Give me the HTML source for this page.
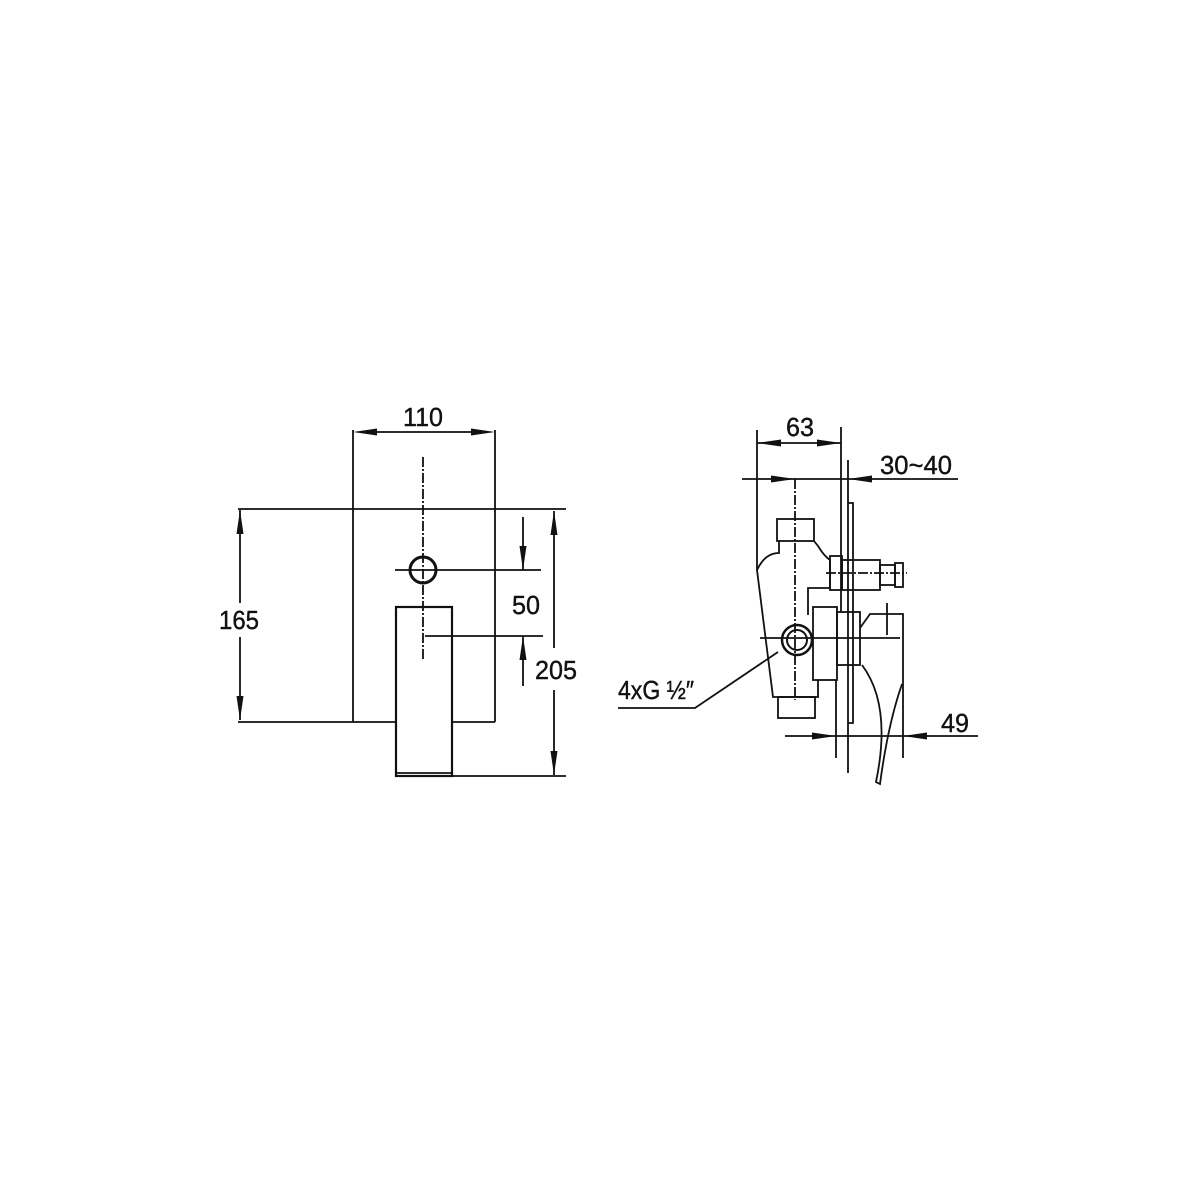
<!DOCTYPE html>
<html><head><style>body{margin:0;background:#fff}svg{display:block}</style></head><body>
<svg width="1200" height="1200" viewBox="0 0 1200 1200" xmlns="http://www.w3.org/2000/svg">
<g stroke="#111" stroke-width="1.8" fill="none">
<!-- left view -->
<line x1="353" y1="430" x2="353" y2="722"/><line x1="495" y1="430" x2="495" y2="722"/>
<line x1="376" y1="432" x2="472" y2="432"/>
<path d="M353,432 l24,-3.5 v7z M495,432 l-24,-3.5 v7z" fill="#111" stroke="none"/>
<line x1="238" y1="509" x2="566" y2="509"/>
<line x1="238" y1="722" x2="396" y2="722"/><line x1="452" y1="722" x2="495" y2="722"/>
<line x1="240" y1="510" x2="240" y2="603"/><line x1="240" y1="637" x2="240" y2="720"/>
<path d="M240,510 l-3.5,24 h7z M240,720 l-3.5,-24 h7z" fill="#111" stroke="none"/>
<rect x="396" y="607" width="56" height="169" stroke-width="2.2"/>
<line x1="396" y1="773" x2="452" y2="773"/>
<circle cx="423" cy="570" r="13" stroke-width="3"/>
<line x1="423" y1="457" x2="423" y2="660" stroke-dasharray="10,2,2,2"/>
<line x1="395" y1="570" x2="541" y2="570"/>
<line x1="425" y1="636" x2="543" y2="636"/>
<line x1="523" y1="517" x2="523" y2="570"/><line x1="523" y1="636" x2="523" y2="686"/>
<path d="M523,570 l-3.5,-24 h7z M523,636 l-3.5,24 h7z" fill="#111" stroke="none"/>
<line x1="554" y1="511" x2="554" y2="648"/><line x1="554" y1="690" x2="554" y2="775"/>
<path d="M554,511 l-3.5,24 h7z M554,775 l-3.5,-24 h7z" fill="#111" stroke="none"/>
<line x1="452" y1="776" x2="566" y2="776"/>
<!-- right view -->
<line x1="757" y1="430" x2="757" y2="570"/><line x1="841" y1="427" x2="841" y2="612"/>
<line x1="757" y1="443" x2="841" y2="443"/>
<path d="M757,443 l24,-3.5 v7z M841,443 l-24,-3.5 v7z" fill="#111" stroke="none"/>
<line x1="742" y1="479" x2="958" y2="479"/>
<path d="M795,479 l-24,-3.5 v7z M848,479 l24,-3.5 v7z" fill="#111" stroke="none"/>
<line x1="795" y1="479" x2="795" y2="700" stroke-dasharray="10,2,2,2"/>
<line x1="848" y1="460" x2="848" y2="773"/>
<path d="M848,503 h5 v220 h-5"/>
<rect x="777" y="519" width="37" height="22"/>
<path d="M779,541 v12 q-14,0 -22,17 l16,127 h45 v-17"/>
<path d="M814,541 l4,5 q6,10 12,14 v28 h-22 v27"/>
<rect x="830" y="556" width="12" height="34"/>
<rect x="842" y="560" width="38" height="30"/>
<rect x="880" y="565" width="15" height="20"/>
<rect x="895" y="563" width="8" height="24"/>
<line x1="826" y1="573" x2="907" y2="573" stroke-dasharray="10,2,2,2"/>
<rect x="778" y="697" width="37" height="21"/>
<rect x="813" y="607" width="24" height="73"/>
<rect x="837" y="612" width="23" height="53"/>
<path d="M860,628 l10,-14 h33 v70"/>
<line x1="887" y1="603" x2="887" y2="635"/>
<path d="M862,665 q30,40 14,117 l4,2 q8,-60 22,-100"/>
<line x1="760" y1="638" x2="900" y2="638"/>
<circle cx="797" cy="640" r="15" stroke-width="2.5"/><circle cx="797" cy="640" r="10" stroke-width="2"/>
<line x1="836" y1="680" x2="836" y2="758"/><line x1="903" y1="684" x2="903" y2="758"/>
<line x1="785" y1="736" x2="978" y2="736"/>
<path d="M836,736 l-24,-3.5 v7z M903,736 l24,-3.5 v7z" fill="#111" stroke="none"/>
<polyline points="618,708 695,708 778,652"/>
</g>
<g font-family="Liberation Sans, sans-serif" font-size="26" fill="#111" text-anchor="middle" stroke="#111" stroke-width="0.4">
<text x="423" y="426" textLength="40" lengthAdjust="spacingAndGlyphs">110</text>
<text x="239" y="629" textLength="40" lengthAdjust="spacingAndGlyphs">165</text>
<text x="526" y="614" textLength="28" lengthAdjust="spacingAndGlyphs">50</text>
<text x="556" y="679" textLength="42" lengthAdjust="spacingAndGlyphs">205</text>
<text x="800" y="436" textLength="28" lengthAdjust="spacingAndGlyphs">63</text>
<text x="916" y="474" textLength="72" lengthAdjust="spacingAndGlyphs">30~40</text>
<text x="955" y="732" textLength="28" lengthAdjust="spacingAndGlyphs">49</text>
<text x="656" y="699" textLength="76" lengthAdjust="spacingAndGlyphs">4xG ½″</text>
</g>
</svg>
</body></html>
